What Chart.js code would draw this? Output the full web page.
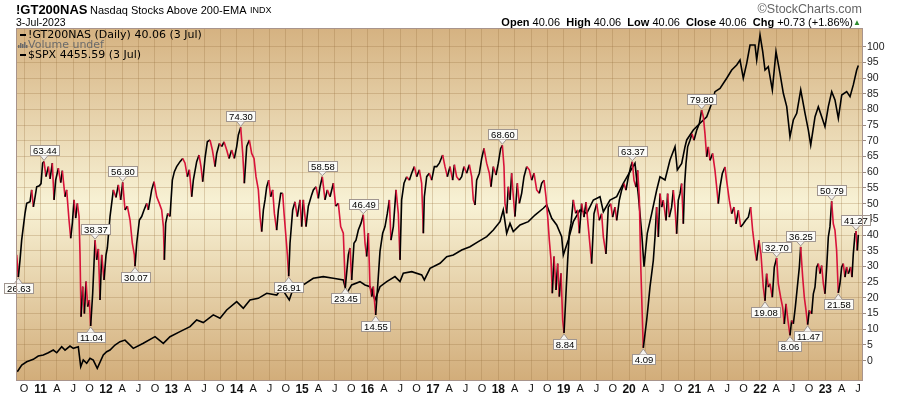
<!DOCTYPE html>
<html><head><meta charset="utf-8">
<script src="https://cdn.jsdelivr.net/npm/chart.js@4.4.0/dist/chart.umd.min.js"></script>
<style>
html,body{margin:0;padding:0;background:#fff;width:900px;height:396px;overflow:hidden;font-family:"Liberation Sans",Arial,sans-serif;}
#wrap{position:relative;width:900px;height:396px;}
canvas{position:absolute;left:0;top:0;}
.t{position:absolute;white-space:nowrap;line-height:1;color:#000;}
</style></head><body>
<div id="wrap">
<canvas id="c" width="900" height="396"></canvas>
<div class="t" style="left:16px;top:3px;font-size:13px;font-weight:bold;">!GT200NAS</div>
<div class="t" style="left:90px;top:5px;font-size:11px;">Nasdaq Stocks Above 200-EMA</div>
<div class="t" style="left:250px;top:6px;font-size:9px;">INDX</div>
<div class="t" style="left:16px;top:17px;font-size:10.5px;">3-Jul-2023</div>
<div class="t" style="right:38px;top:3px;font-size:12.5px;color:#666;">&#169;StockCharts.com</div>
<div class="t" style="right:47px;top:17px;font-size:11px;"><b>Open</b> 40.06&nbsp; <b>High</b> 40.06&nbsp; <b>Low</b> 40.06&nbsp; <b>Close</b> 40.06&nbsp; <b>Chg</b> +0.73 (+1.86%)</div>
<div class="t" style="right:39px;top:19px;font-size:8px;color:#2e8b2e;">&#9650;</div>
</div>
<script>
// ---- data (decimal year, value) ----
const gtYears = [
2010.636,2010.661,2010.687,2010.712,2010.763,2010.789,2010.840,2010.865,2010.891,2010.916,2010.942,2010.982,
2011.008,2011.033,2011.054,2011.084,2011.120,2011.146,2011.181,2011.207,2011.232,2011.273,2011.309,2011.334,
2011.375,2011.400,2011.436,2011.462,2011.487,2011.513,2011.538,2011.564,2011.589,2011.604,2011.620,2011.645,
2011.671,2011.696,2011.722,2011.747,2011.767,2011.798,2011.834,2011.859,2011.885,2011.910,2011.936,2011.971,
2012.002,2012.022,2012.063,2012.114,2012.155,2012.190,2012.226,2012.257,2012.292,2012.328,2012.369,2012.404,
2012.435,2012.445,2012.471,2012.512,2012.547,2012.583,2012.624,2012.649,2012.700,2012.736,2012.777,2012.817,
2012.853,2012.879,2012.894,2012.914,2012.945,2012.980,2013.016,2013.047,2013.082,2013.133,2013.174,2013.210,
2013.245,2013.276,2013.312,2013.337,2013.388,2013.424,2013.454,2013.480,2013.515,2013.551,2013.592,2013.628,
2013.669,2013.694,2013.735,2013.770,2013.806,2013.847,2013.883,2013.923,2013.964,2014.000,2014.025,2014.061,
2014.092,2014.117,2014.153,2014.193,2014.229,2014.265,2014.295,2014.331,2014.357,2014.382,2014.408,2014.433,
2014.459,2014.489,2014.520,2014.550,2014.576,2014.611,2014.637,2014.673,2014.703,2014.724,2014.749,2014.775,
2014.795,2014.815,2014.856,2014.891,2014.927,2014.968,2014.993,2015.019,2015.060,2015.095,2015.146,2015.172,
2015.213,2015.248,2015.274,2015.309,2015.350,2015.386,2015.427,2015.478,2015.513,2015.554,2015.590,2015.630,
2015.661,2015.707,2015.732,2015.758,2015.793,2015.824,2015.860,2015.901,2015.936,2015.962,2015.987,2016.013,
2016.038,2016.064,2016.089,2016.125,2016.155,2016.191,2016.232,2016.268,2016.303,2016.334,2016.359,2016.395,
2016.436,2016.471,2016.497,2016.522,2016.558,2016.599,2016.640,2016.675,2016.716,2016.752,2016.793,2016.828,
2016.854,2016.869,2016.905,2016.945,2016.981,2017.022,2017.058,2017.098,2017.149,2017.185,2017.221,2017.261,
2017.302,2017.328,2017.363,2017.404,2017.440,2017.475,2017.516,2017.557,2017.593,2017.618,2017.644,2017.669,
2017.710,2017.746,2017.781,2017.822,2017.863,2017.888,2017.924,2017.965,2018.000,2018.036,2018.062,2018.087,
2018.102,2018.128,2018.153,2018.179,2018.204,2018.230,2018.255,2018.291,2018.322,2018.357,2018.393,2018.434,
2018.474,2018.510,2018.546,2018.587,2018.627,2018.663,2018.699,2018.729,2018.755,2018.780,2018.806,2018.826,
2018.852,2018.882,2018.908,2018.933,2018.959,2018.984,2019.005,2019.035,2019.061,2019.086,2019.112,2019.147,
2019.183,2019.214,2019.239,2019.274,2019.310,2019.341,2019.376,2019.427,2019.463,2019.504,2019.544,2019.580,
2019.606,2019.646,2019.682,2019.718,2019.748,2019.784,2019.810,2019.850,2019.886,2019.922,2019.952,2019.988,
2020.024,2020.049,2020.075,2020.105,2020.131,2020.156,2020.176,2020.197,2020.217,2020.243,2020.268,2020.294,
2020.319,2020.345,2020.370,2020.396,2020.421,2020.447,2020.472,2020.498,2020.523,2020.564,2020.589,2020.615,
2020.650,2020.676,2020.701,2020.727,2020.752,2020.778,2020.803,2020.829,2020.849,2020.870,2020.895,2020.931,
2020.961,2020.992,2021.033,2021.074,2021.109,2021.135,2021.160,2021.186,2021.211,2021.237,2021.277,2021.313,
2021.339,2021.364,2021.390,2021.425,2021.466,2021.491,2021.532,2021.568,2021.604,2021.634,2021.670,2021.706,
2021.746,2021.782,2021.823,2021.858,2021.889,2021.925,2021.950,2021.986,2022.016,2022.052,2022.078,2022.103,
2022.129,2022.154,2022.190,2022.220,2022.256,2022.281,2022.317,2022.348,2022.373,2022.399,2022.429,2022.460,
2022.485,2022.511,2022.541,2022.572,2022.603,2022.623,2022.654,2022.679,2022.705,2022.730,2022.755,2022.791,
2022.817,2022.842,2022.868,2022.893,2022.919,2022.944,2022.970,2022.995,2023.021,2023.046,2023.071,2023.097,
2023.122,2023.148,2023.173,2023.199,2023.224,2023.250,2023.275,2023.301,2023.326,2023.352,2023.387,2023.408,
2023.428,2023.454,2023.469,2023.489,2023.505
];
const gtValues = [
33.7,26.63,32.1,38.4,46.9,50.1,50.6,54.4,49.0,52.0,55.4,55.7,
56.4,62.9,63.44,58.6,61.8,57.9,62.9,51.2,57.5,61.3,56.7,60.5,
52.2,54.4,44.8,39.0,43.8,51.2,45.4,50.1,46.0,34.2,14.0,23.6,
15.0,25.2,17.2,19.3,11.04,21.5,38.37,32.1,35.6,19.3,33.7,25.7,
33.7,35.9,45.9,54.4,52.0,56.0,51.2,56.80,48.0,49.2,44.8,37.4,
33.7,30.07,37.4,44.8,45.9,48.0,50.1,48.0,54.4,57.0,52.2,50.1,
48.0,42.7,32.1,43.8,46.9,45.9,57.5,60.2,61.8,63.4,64.4,62.9,
58.6,60.8,52.2,57.5,63.4,65.5,61.8,57.0,64.4,69.7,70.3,67.1,
61.8,66.0,69.2,68.2,69.7,67.1,64.4,67.1,64.4,68.2,71.9,74.30,
66.0,56.5,68.2,70.3,66.0,64.4,58.6,54.4,45.9,41.1,48.0,51.2,
55.4,57.5,52.2,54.4,46.9,41.6,48.0,53.3,53.3,46.9,40.5,33.7,
26.91,37.4,48.0,50.6,45.9,51.2,42.7,51.2,42.7,49.2,52.8,54.4,
55.4,51.7,55.4,58.58,51.2,54.4,52.2,56.5,49.2,50.1,42.7,40.6,
23.45,33.7,35.9,25.7,37.4,38.4,41.6,43.8,46.49,37.4,33.2,40.6,
23.6,20.4,23.6,14.55,23.6,34.8,40.6,42.7,46.9,51.2,38.4,42.7,
54.4,46.9,32.1,51.2,56.5,58.6,57.5,59.7,61.8,58.6,60.8,56.5,
40.6,52.2,58.6,59.7,57.5,61.8,61.8,62.9,65.5,61.8,58.6,61.8,
57.5,62.4,58.6,57.5,58.6,61.8,59.7,62.4,58.6,51.2,49.6,57.5,
59.7,64.4,67.6,62.9,59.7,55.4,61.8,59.1,62.9,67.6,68.60,61.8,
50.1,46.9,55.4,51.2,59.7,52.2,45.9,56.5,50.1,53.3,58.6,61.8,
60.8,57.5,59.7,54.4,53.3,56.5,57.5,52.2,45.9,38.4,32.1,21.5,
33.2,22.5,30.9,20.4,27.8,13.0,8.84,21.5,32.1,40.6,43.8,51.2,
46.9,48.0,40.6,50.0,45.7,50.5,42.6,30.9,46.8,50.0,44.7,46.8,
39.4,34.0,48.9,50.0,45.7,48.9,44.7,51.1,54.3,56.4,54.3,58.5,
61.7,63.37,57.4,55.3,60.6,52.1,31.9,17.0,4.09,8.5,12.8,18.1,
23.4,27.7,31.9,39.4,48.9,39.4,53.2,48.9,51.1,44.7,53.2,45.7,
48.9,54.3,48.9,40.4,51.1,53.2,56.4,43.6,56.4,62.8,68.1,70.2,
72.3,70.2,73.4,75.5,79.80,77.7,72.3,64.9,68.1,63.8,66.0,60.6,
55.3,50.0,55.3,59.6,61.7,57.4,51.1,46.8,48.9,43.6,47.9,42.6,
43.6,44.7,45.7,48.9,41.5,35.1,31.9,38.3,34.0,23.4,19.08,27.7,
23.4,24.5,20.2,29.8,32.70,24.5,20.2,17.0,11.7,18.1,12.8,8.06,
12.8,11.7,17.0,23.4,29.8,36.25,26.6,20.2,16.0,11.47,16.0,14.9,
21.3,23.4,29.8,30.9,27.7,30.3,24.5,21.3,29.8,39.4,42.6,50.79,
43.6,41.5,35.1,21.58,24.5,29.8,30.9,26.6,29.8,27.7,29.8,26.6,
34.0,40.4,41.27,35.1,40.06
];
const spxYears = [
2010.645,2010.713,2010.789,2010.890,2010.966,2011.043,2011.119,2011.196,2011.248,2011.324,2011.375,2011.451,
2011.502,2011.578,2011.615,2011.654,2011.706,2011.757,2011.807,2011.868,2011.960,2012.012,2012.063,2012.139,
2012.216,2012.292,2012.419,2012.572,2012.751,2012.878,2012.980,2013.133,2013.286,2013.388,2013.489,2013.642,
2013.745,2013.847,2014.000,2014.101,2014.203,2014.330,2014.459,2014.612,2014.688,2014.804,2014.891,2015.018,
2015.171,2015.324,2015.477,2015.630,2015.682,2015.758,2015.885,2015.962,2016.038,2016.115,2016.191,2016.294,
2016.420,2016.497,2016.547,2016.676,2016.829,2016.869,2016.956,2017.109,2017.211,2017.312,2017.440,2017.567,
2017.694,2017.823,2017.924,2018.026,2018.076,2018.128,2018.179,2018.229,2018.332,2018.459,2018.561,2018.688,
2018.740,2018.817,2018.893,2018.969,2018.994,2019.070,2019.147,2019.249,2019.352,2019.453,2019.555,2019.606,
2019.708,2019.810,2019.911,2020.014,2020.090,2020.141,2020.193,2020.228,2020.278,2020.346,2020.422,2020.472,
2020.549,2020.625,2020.702,2020.737,2020.804,2020.855,2020.881,2020.982,2021.084,2021.187,2021.263,2021.313,
2021.390,2021.492,2021.569,2021.645,2021.696,2021.746,2021.798,2021.849,2021.925,2021.951,2022.002,2022.043,
2022.078,2022.128,2022.190,2022.246,2022.307,2022.358,2022.410,2022.460,2022.511,2022.563,2022.624,2022.690,
2022.740,2022.777,2022.843,2022.893,2022.945,2022.995,2023.046,2023.098,2023.148,2023.199,2023.251,2023.327,
2023.378,2023.428,2023.480,2023.505
];
const spxValues = [
1050,1125,1161,1188,1225,1236,1261,1291,1261,1328,1291,1336,
1310,1328,1106,1180,1143,1199,1180,1088,1236,1273,1291,1347,
1384,1402,1310,1366,1440,1366,1440,1496,1552,1626,1597,1682,
1645,1737,1829,1756,1848,1866,1922,1903,1978,1848,2034,2015,
2089,2108,2089,2071,1922,2015,2052,2015,1996,1848,1996,2052,
2108,2052,2145,2163,2126,2071,2200,2256,2330,2349,2404,2441,
2497,2552,2626,2719,2849,2589,2700,2608,2682,2719,2793,2868,
2904,2756,2682,2552,2348,2515,2719,2849,2812,2960,2997,2830,
2960,2997,3146,3275,3368,3015,2590,2218,2590,2812,3071,3219,
3182,3405,3553,3294,3368,3553,3628,3739,3813,3886,4035,4165,
4202,4314,4406,4462,4517,4314,4480,4684,4684,4517,4795,4610,
4406,4443,4184,4610,4369,4147,3998,3664,3850,3924,4184,3924,
3739,3572,3887,3998,3887,3776,3998,4165,4073,3869,4128,4165,
4110,4240,4406,4456
];
const peakLabels = [63.44, 38.37, 56.80, 74.30, 58.58, 46.49, 68.60, 63.37, 79.80, 32.70, 36.25, 50.79, 41.27];
const troughLabels = [26.63, 11.04, 30.07, 26.91, 23.45, 14.55, 8.84, 4.09, 19.08, 8.06, 11.47, 21.58];
const quarterLetters = ['', 'A', 'J', 'O'];
const legendLines = ['!GT200NAS (Daily) 40.06 (3 Jul)', 'Volume undef', '$SPX 4455.59 (3 Jul)'];

const RED = '#d8133a', BLACK = '#000000';
const GRID = 'rgba(150,110,60,0.28)';

const bgPlugin = {
  id: 'bg',
  beforeDraw(chart) {
    const {ctx, chartArea: a} = chart;
    const g = ctx.createLinearGradient(0, a.top, 0, a.bottom);
    g.addColorStop(0, '#d5b281');
    g.addColorStop(0.5, '#f8f2d5');
    g.addColorStop(1, '#d2ad7a');
    ctx.save(); ctx.fillStyle = g; ctx.fillRect(a.left, a.top, a.right - a.left, a.bottom - a.top); ctx.restore();
  },
  afterDraw(chart) {
    const {ctx, chartArea: a} = chart;
    ctx.save();
    ctx.strokeStyle = '#a8948c'; ctx.lineWidth = 1;
    ctx.strokeRect(a.left + 0.5, a.top + 0.5, a.right - a.left, a.bottom - a.top);
    // legend
    ctx.font = '11px "DejaVu Sans", Verdana, sans-serif';
    ctx.textBaseline = 'middle';
    ctx.fillStyle = '#000';
    ctx.fillRect(a.left + 4, a.top + 6, 6, 2);
    ctx.fillText(legendLines[0], a.left + 12, a.top + 7);
    ctx.fillStyle = '#6a6a6a';
    const bx = a.left + 2, by = a.top + 20;
    [[0,3],[2,5],[4,4],[6,6],[8,3]].forEach(([dx,h]) => ctx.fillRect(bx + dx, by - h, 1.5, h));
    ctx.fillText(legendLines[1], a.left + 12, a.top + 17);
    ctx.fillStyle = '#000';
    ctx.fillRect(a.left + 4, a.top + 26, 6, 2);
    ctx.fillText(legendLines[2], a.left + 12, a.top + 27);
    ctx.restore();
  },
  afterDatasetsDraw(chart) {
    const {ctx} = chart;
    const xs = chart.scales.x, ys = chart.scales.y;
    ctx.save();
    ctx.font = '9.5px "Liberation Sans", Arial, sans-serif';
    ctx.textBaseline = 'middle'; ctx.textAlign = 'center';
    const draw = (val, up) => {
      let idx = -1, best = 1e9;
      gtValues.forEach((v, i) => { const d = Math.abs(v - val); if (d < best) { best = d; idx = i; } });
      const px = xs.getPixelForValue(gtYears[idx]);
      const py = ys.getPixelForValue(gtValues[idx]);
      const txt = val.toFixed(2);
      const w = Math.round(ctx.measureText(txt).width) + 5, h = 10;
      const bx = Math.round(px - w / 2) + 0.5;
      const tip = up ? py - 1 : py + 1;
      const by = up ? Math.round(py - 6 - h) + 0.5 : Math.round(py + 6) + 0.5;
      ctx.fillStyle = '#fbfbf8'; ctx.strokeStyle = '#a09690'; ctx.lineWidth = 1;
      ctx.fillRect(bx, by, w, h); ctx.strokeRect(bx, by, w, h);
      ctx.beginPath();
      const base = up ? by + h : by;
      ctx.moveTo(px - 4, base); ctx.lineTo(px, tip); ctx.lineTo(px + 4, base);
      ctx.closePath(); ctx.fillStyle = '#f4f2ee'; ctx.fill();
      ctx.beginPath(); ctx.moveTo(px - 4, base); ctx.lineTo(px, tip); ctx.lineTo(px + 4, base); ctx.stroke();
      ctx.fillStyle = '#000';
      ctx.fillText(txt, bx + w / 2, by + h / 2 + 0.5);
    };
    peakLabels.forEach(v => draw(v, true));
    troughLabels.forEach(v => draw(v, false));
    ctx.restore();
  }
};

new Chart(document.getElementById('c'), {
  type: 'line',
  data: {
    datasets: [
      {
        label: '!GT200NAS',
        data: gtYears.map((t, i) => ({x: t, y: gtValues[i]})),
        yAxisID: 'y', borderWidth: 1.6, pointRadius: 0, tension: 0, borderColor: RED,
        segment: { borderColor: c => (c.p1.parsed.y < c.p0.parsed.y ? RED : BLACK) }
      },
      {
        label: '$SPX',
        data: spxYears.map((t, i) => ({x: t, y: spxValues[i]})),
        yAxisID: 'y2', borderWidth: 1.6, pointRadius: 0, tension: 0, borderColor: BLACK
      }
    ]
  },
  options: {
    responsive: false, animation: false, devicePixelRatio: 1,
    layout: { padding: { left: 16, top: 28, right: 0, bottom: 0 } },
    plugins: { legend: { display: false }, tooltip: { enabled: false } },
    scales: {
      x: {
        type: 'linear', min: 2010.6254, max: 2023.561,
        afterFit: s => { s.height = 16; },
        afterBuildTicks: s => {
          const t = [];
          for (let q = 2010.75; q <= 2023.51; q += 0.25) t.push({value: Math.round(q * 4) / 4});
          s.ticks = t;
        },
        grid: { color: GRID, drawTicks: false },
        border: { display: false },
        ticks: {
          autoSkip: false, maxRotation: 0, padding: 2, color: '#111',
          font: c => (c.tick && Math.round(c.tick.value * 4) % 4 === 0)
            ? {family: '"Liberation Sans", Arial', size: 12, weight: 'bold'}
            : {family: '"Liberation Sans", Arial', size: 11},
          callback: v => {
            const q = ((Math.round(v * 4) % 4) + 4) % 4;
            return q === 0 ? String(Math.round(v) % 100).padStart(2, '0') : quarterLetters[q];
          }
        }
      },
      y: {
        position: 'right', min: -6.15, max: 105.95,
        afterFit: s => { s.width = 38; },
        afterBuildTicks: s => { const t = []; for (let v = 0; v <= 100; v += 5) t.push({value: v}); s.ticks = t; },
        grid: { color: GRID, tickLength: 4, tickColor: '#9a8a80' },
        border: { display: false },
        ticks: { padding: 1, color: '#222', font: {family: '"Liberation Sans", Arial', size: 10.5} }
      },
      y2: { display: false, min: 958, max: 4873 }
    }
  },
  plugins: [bgPlugin]
});
</script>
</body></html>
